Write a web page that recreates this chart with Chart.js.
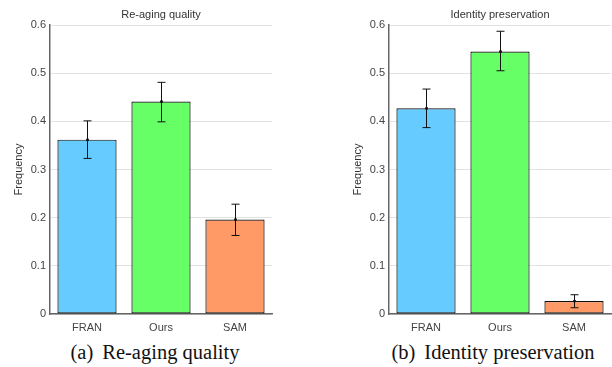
<!DOCTYPE html>
<html>
<head>
<meta charset="utf-8">
<script src="https://cdn.jsdelivr.net/npm/chart.js@4/dist/chart.umd.min.js"></script>
<style>
  body { margin: 0; background: #fff; width: 612px; height: 367px; position: relative; overflow: hidden; }
  .box { position: absolute; top: 0; height: 340px; }
  .title { position: absolute; top: 8px; font: 11px "Liberation Sans", Arial, sans-serif; color: #333; transform: translateX(-50%); white-space: nowrap; }
  .caption { position: absolute; top: 341px; font: 20.5px "Liberation Serif", "Times New Roman", serif; color: #111; transform: translateX(-50%); white-space: nowrap; }
  .caption span { margin-right: 9px; }
</style>
</head>
<body>
<div class="box" style="left:0;width:306px"><canvas id="reaging"></canvas></div>
<div class="box" style="left:339px;width:273px"><canvas id="identity"></canvas></div>
<div class="title" style="left:161px">Re-aging quality</div>
<div class="title" style="left:500px">Identity preservation</div>
<div class="caption" style="left:155px"><span>(a)</span>Re-aging quality</div>
<div class="caption" style="left:493px"><span>(b)</span>Identity preservation</div>
<script>
// Chart data
const categories = ["FRAN", "Ours", "SAM"];
const barColors = ["#66ccff", "#66ff66", "#ff9966"];

const reagingValues = [0.362, 0.441, 0.196];
const reagingLow = [0.323, 0.399, 0.163];
const reagingHigh = [0.401, 0.481, 0.228];

const identityValues = [0.427, 0.545, 0.027];
const identityLow = [0.387, 0.505, 0.013];
const identityHigh = [0.467, 0.587, 0.040];

const yMin = 0;
const yMax = 0.6;
const yStep = 0.1;

// Draw error bars on top of the bars
const errorBars = {
  id: "errorBars",
  afterDatasetsDraw(chart, args, opts) {
    const ctx = chart.ctx;
    const x = chart.scales.x;
    const y = chart.scales.y;
    ctx.save();
    ctx.strokeStyle = "#111";
    ctx.fillStyle = "#111";
    ctx.lineWidth = 1;
    opts.low.forEach((lo, i) => {
      const cx = Math.round(x.getPixelForValue(i)) + 0.5;
      const yl = y.getPixelForValue(lo);
      const yh = y.getPixelForValue(opts.high[i]);
      const ym = y.getPixelForValue(opts.mid[i]);
      ctx.beginPath();
      ctx.moveTo(cx, yl); ctx.lineTo(cx, yh);
      ctx.moveTo(cx - 4, yl); ctx.lineTo(cx + 4, yl);
      ctx.moveTo(cx - 4, yh); ctx.lineTo(cx + 4, yh);
      ctx.stroke();
      ctx.beginPath();
      ctx.arc(cx, ym, 1.5, 0, Math.PI * 2);
      ctx.fill();
    });
    ctx.restore();
  }
};

function makeChart(id, values, low, high, padRight) {
  return new Chart(document.getElementById(id), {
    type: "bar",
    data: {
      labels: categories,
      datasets: [{
        data: values,
        backgroundColor: barColors,
        borderColor: "#111",
        borderWidth: 1.2,
        borderSkipped: false,
        categoryPercentage: 1,
        barPercentage: 0.8
      }]
    },
    options: {
      responsive: true,
      maintainAspectRatio: false,
      animation: false,
      layout: { padding: { top: 25, right: padRight, left: 0, bottom: 0 } },
      plugins: {
        legend: { display: false },
        tooltip: { enabled: false },
        errorBars: { low, high, mid: values }
      },
      scales: {
        x: {
          grid: { display: false, drawTicks: false },
          border: { display: true, color: "#666", width: 1.5 },
          ticks: { padding: 7, color: "#444", font: { family: "Liberation Sans", size: 11 } },
          afterFit: s => { s.height = 26; }
        },
        y: {
          min: yMin,
          max: yMax,
          ticks: { stepSize: yStep, padding: 4, color: "#444", font: { family: "Liberation Sans", size: 11 } },
          grid: { color: "#e2e2e2", drawTicks: false },
          border: { display: true, color: "#666", width: 1.5 },
          title: {
            display: true,
            text: "Frequency",
            color: "#333",
            padding: { top: 12, bottom: 0 },
            font: { family: "Liberation Sans", size: 11 }
          },
          afterFit: s => { s.width = 50; }
        }
      }
    },
    plugins: [errorBars]
  });
}

makeChart("reaging", reagingValues, reagingLow, reagingHigh, 34);
makeChart("identity", identityValues, identityLow, identityHigh, 1);
</script>
</body>
</html>
